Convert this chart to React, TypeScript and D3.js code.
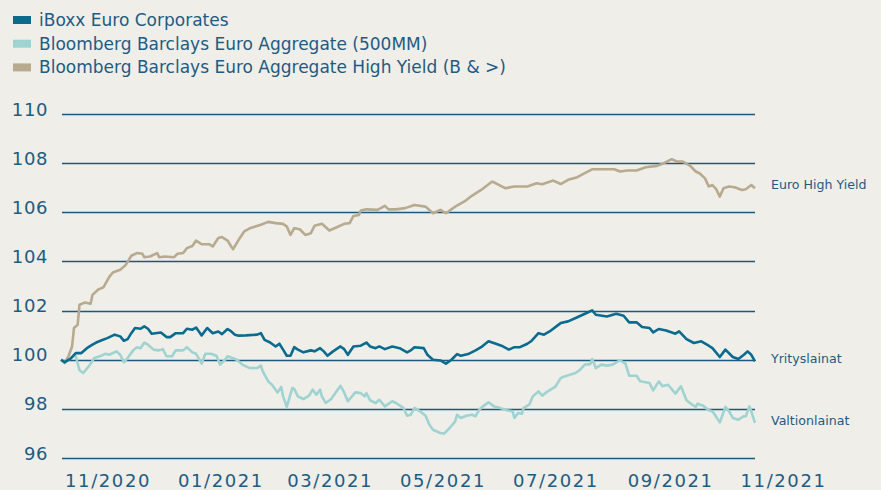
import React, { useEffect, useRef } from "react";
import * as d3 from "d3";

// [päiviä alusta, indeksi]
type Point = [number, number];

const START = new Date(2020, 9, 29);
const END_DAY = 375;

const SERIES_NAMES = [
  "iBoxx Euro Corporates",
  "Bloomberg Barclays Euro Aggregate (500MM)",
  "Bloomberg Barclays Euro Aggregate High Yield (B & >)",
];
const SERIES_COLORS = ["#0b6b8e", "#9fd3d1", "#b8aa8f"];

const END_LABELS = ["Yrityslainat", "Valtionlainat", "Euro High Yield"];
const END_LABEL_VALUES = [100.07, 97.53, 107.14];

const Y_TICKS = [96, 98, 100, 102, 104, 106, 108, 110];
const X_TICKS = [
  new Date(2020, 10, 1),
  new Date(2021, 0, 1),
  new Date(2021, 2, 1),
  new Date(2021, 4, 1),
  new Date(2021, 6, 1),
  new Date(2021, 8, 1),
  new Date(2021, 10, 1),
];

const corporates: Point[] = [
  [0, 100], [2, 99.9], [5, 100.03], [8, 100.27], [11, 100.27], [14, 100.47], [17, 100.61],
  [19, 100.7], [22, 100.79], [25, 100.88], [29, 101.02], [32, 100.95], [34, 100.77], [36, 100.84],
  [38, 101.08], [40, 101.29], [43, 101.26], [45, 101.36], [47, 101.26], [49, 101.06], [54, 101.11],
  [57, 100.92], [59, 100.92], [62, 101.08], [66, 101.08], [68, 101.26], [71, 101.22], [73, 101.31],
  [76, 100.99], [79, 101.29], [82, 101.08], [85, 101.15], [87, 101.04], [90, 101.25], [92, 101.15],
  [94, 101.02], [96, 100.98], [100, 100.99], [106, 101.02], [108, 101.08], [110, 100.81], [113, 100.7],
  [116, 100.54], [118, 100.65], [120, 100.41], [122, 100.16], [124, 100.16], [126, 100.51], [128, 100.41],
  [131, 100.3], [135, 100.38], [137, 100.34], [140, 100.47], [142, 100.34], [144, 100.16], [147, 100.34],
  [151, 100.54], [153, 100.43], [155, 100.2], [158, 100.54], [162, 100.57], [165, 100.7], [167, 100.54],
  [170, 100.47], [172, 100.54], [175, 100.43], [179, 100.54], [183, 100.47], [187, 100.3], [189, 100.38],
  [191, 100.51], [196, 100.47], [198, 100.2], [201, 100.0], [205, 99.97], [208, 99.84], [211, 100.0],
  [214, 100.23], [216, 100.16], [220, 100.23], [224, 100.38], [227, 100.51], [231, 100.75], [235, 100.65],
  [238, 100.57], [242, 100.41], [245, 100.51], [248, 100.51], [252, 100.65], [254, 100.75], [258, 101.08],
  [261, 101.02], [264, 101.15], [270, 101.49], [274, 101.56], [279, 101.73], [284, 101.9], [287, 102.01],
  [289, 101.83], [295, 101.76], [300, 101.87], [304, 101.79], [307, 101.52], [311, 101.52], [314, 101.33],
  [318, 101.29], [320, 101.11], [323, 101.25], [327, 101.19], [332, 101.06], [334, 101.15], [338, 100.84],
  [342, 100.68], [346, 100.75], [350, 100.57], [352, 100.47], [356, 100.11], [359, 100.41], [363, 100.11],
  [366, 100.03], [369, 100.2], [371, 100.34], [373, 100.2], [375, 99.93],
];

const aggregate: Point[] = [
  [0, 100], [3, 99.93], [7, 100.16], [8, 100.14], [10, 99.57], [12, 99.46], [15, 99.73], [18, 100.07],
  [21, 100.14], [24, 100.24], [26, 100.2], [30, 100.34], [32, 100.2], [34, 99.89], [36, 100.07], [39, 100.38],
  [41, 100.51], [43, 100.47], [45, 100.7], [47, 100.61], [50, 100.41], [53, 100.38], [55, 100.43], [57, 100.14],
  [60, 100.14], [62, 100.38], [66, 100.38], [68, 100.51], [71, 100.3], [73, 100.24], [76, 99.84], [78, 100.24],
  [81, 100.24], [84, 100.16], [86, 99.8], [89, 100.03], [90, 100.14], [95, 100.0], [98, 99.8], [102, 99.66],
  [106, 99.66], [108, 99.76], [109, 99.53], [112, 99.12], [114, 98.98], [117, 98.67], [119, 98.89], [120, 98.51],
  [122, 98.08], [125, 98.85], [126, 98.81], [128, 98.51], [131, 98.4], [134, 98.54], [136, 98.78], [138, 98.58],
  [140, 98.78], [141, 98.51], [143, 98.24], [146, 98.4], [151, 98.94], [153, 98.67], [155, 98.31], [159, 98.67],
  [162, 98.64], [164, 98.51], [165, 98.64], [167, 98.35], [170, 98.24], [172, 98.37], [175, 98.1], [179, 98.31],
  [181, 98.24], [185, 98.04], [187, 97.72], [189, 97.76], [191, 98.04], [194, 97.9], [197, 97.72], [199, 97.36],
  [201, 97.15], [205, 97.02], [207, 96.99], [210, 97.22], [213, 97.49], [214, 97.76], [216, 97.63], [219, 97.72],
  [222, 97.76], [224, 97.7], [226, 97.97], [228, 98.1], [231, 98.27], [234, 98.1], [237, 98.04], [241, 97.94],
  [244, 97.9], [245, 97.63], [247, 97.83], [249, 97.8], [250, 98.04], [253, 98.17], [255, 98.51], [258, 98.71],
  [260, 98.54], [263, 98.71], [267, 98.89], [270, 99.25], [272, 99.32], [275, 99.39], [278, 99.46], [280, 99.56],
  [283, 99.8], [286, 99.82], [287, 100.03], [289, 99.66], [292, 99.8], [295, 99.76], [298, 99.8], [302, 99.97],
  [305, 99.84], [307, 99.35], [311, 99.35], [313, 99.12], [316, 99.08], [318, 99.05], [320, 98.75], [323, 99.12],
  [325, 98.92], [328, 98.98], [332, 98.62], [335, 98.92], [338, 98.35], [341, 98.17], [343, 98.08], [344, 98.21],
  [347, 98.13], [350, 97.94], [352, 97.9], [356, 97.45], [359, 98.08], [361, 97.9], [363, 97.63], [366, 97.56],
  [369, 97.7], [370, 97.7], [372, 98.1], [373, 97.9], [375, 97.43],
];

const highYield: Point[] = [
  [0, 100.0], [2, 99.86], [4, 100.14], [6, 100.54], [7, 101.29], [9, 101.42], [10, 102.24], [13, 102.33],
  [16, 102.28], [17, 102.64], [20, 102.85], [23, 102.95], [26, 103.36], [28, 103.55], [32, 103.66], [35, 103.86],
  [38, 104.23], [41, 104.34], [44, 104.31], [45, 104.17], [48, 104.2], [52, 104.34], [53, 104.17], [56, 104.2],
  [61, 104.17], [63, 104.31], [66, 104.34], [68, 104.54], [71, 104.63], [73, 104.85], [76, 104.7], [80, 104.7],
  [82, 104.61], [85, 104.95], [87, 104.99], [90, 104.85], [92, 104.61], [93, 104.5], [96, 104.88], [99, 105.22],
  [102, 105.35], [105, 105.42], [108, 105.49], [112, 105.61], [116, 105.56], [120, 105.53], [122, 105.42],
  [124, 105.08], [126, 105.35], [129, 105.31], [132, 105.08], [135, 105.15], [137, 105.45], [141, 105.53],
  [145, 105.26], [149, 105.39], [153, 105.53], [156, 105.56], [158, 105.85], [161, 105.89], [162, 106.07],
  [165, 106.12], [171, 106.1], [175, 106.26], [177, 106.12], [181, 106.12], [186, 106.17], [191, 106.3],
  [197, 106.23], [201, 105.96], [205, 106.1], [208, 105.96], [213, 106.23], [218, 106.44], [222, 106.67],
  [227, 106.91], [233, 107.25], [235, 107.18], [240, 106.98], [245, 107.05], [252, 107.05], [257, 107.18],
  [260, 107.14], [266, 107.29], [270, 107.15], [274, 107.32], [279, 107.43], [283, 107.59], [287, 107.75],
  [293, 107.75], [299, 107.75], [302, 107.66], [306, 107.7], [311, 107.7], [316, 107.83], [322, 107.89],
  [325, 107.97], [330, 108.16], [333, 108.06], [336, 108.06], [340, 107.89], [343, 107.66], [345, 107.59],
  [348, 107.38], [350, 107.05], [352, 107.11], [354, 106.94], [356, 106.64], [358, 106.98], [361, 107.05],
  [364, 107.02], [368, 106.91], [370, 106.94], [373, 107.11], [375, 106.98],
];

const SERIES = [corporates, aggregate, highYield];

const WIDTH = 881;
const HEIGHT = 490;
const TEXT = "#1e5b82";
const GRID = "#1b5a7e";
const FONT = "'DejaVu Sans', sans-serif";

const App: React.FC = () => {
  const svgRef = useRef<SVGSVGElement>(null);

  useEffect(() => {
    if (!svgRef.current) return;
    const svg = d3.select(svgRef.current);
    svg.selectAll("*").remove();

    svg.append("rect").attr("width", WIDTH).attr("height", HEIGHT).attr("fill", "#efeee9");

    const x = d3
      .scaleTime()
      .domain([START, d3.timeDay.offset(START, END_DAY)])
      .range([61, 755]);
    const y = d3.scaleLinear().domain([96, 110]).range([458, 114]);

    // legenda
    const legend = svg
      .selectAll(".legend")
      .data(SERIES_NAMES)
      .enter()
      .append("g")
      .attr("class", "legend")
      .attr("transform", (_d, i) => `translate(0,${i * 23.7})`);
    legend
      .append("rect")
      .attr("x", 13)
      .attr("y", 16)
      .attr("width", 18)
      .attr("height", 8)
      .attr("fill", (_d, i) => SERIES_COLORS[i]);
    legend
      .append("text")
      .attr("x", 39)
      .attr("y", 26)
      .text((d) => d)
      .style("font-family", FONT)
      .style("font-size", "17px")
      .style("fill", TEXT);

    // vaakaviivat
    svg
      .append("g")
      .selectAll("line")
      .data(Y_TICKS)
      .enter()
      .append("line")
      .attr("x1", 62)
      .attr("x2", 755)
      .attr("y1", (d) => Math.round(y(d)) + 0.5)
      .attr("y2", (d) => Math.round(y(d)) + 0.5)
      .attr("stroke", GRID)
      .attr("stroke-width", 1.3);

    svg
      .append("g")
      .selectAll("text")
      .data(Y_TICKS)
      .enter()
      .append("text")
      .attr("x", 48)
      .attr("y", (d) => y(d) + 1.5)
      .attr("text-anchor", "end")
      .text((d) => d)
      .style("font-family", FONT)
      .style("font-size", "18px")
      .style("letter-spacing", "0.6px")
      .style("fill", TEXT);

    const fmt = d3.timeFormat("%m/%Y");
    svg
      .append("g")
      .selectAll("text")
      .data(X_TICKS)
      .enter()
      .append("text")
      .attr("x", (d) => x(d) - 1.5)
      .attr("y", 487)
      .text((d) => fmt(d))
      .style("font-family", FONT)
      .style("font-size", "18px")
      .style("letter-spacing", "1.6px")
      .style("fill", TEXT);

    const line = d3
      .line<Point>()
      .x((d) => x(d3.timeDay.offset(START, d[0])))
      .y((d) => y(d[1]));

    // piirtojärjestys: high yield alimmaisena
    [2, 1, 0].forEach((i) => {
      svg
        .append("path")
        .datum(SERIES[i])
        .attr("d", line)
        .attr("fill", "none")
        .attr("stroke", SERIES_COLORS[i])
        .attr("stroke-width", 2.6)
        .attr("stroke-linejoin", "round");
    });

    svg
      .append("g")
      .selectAll("text")
      .data(END_LABELS)
      .enter()
      .append("text")
      .attr("x", 771)
      .attr("y", (_d, i) => y(END_LABEL_VALUES[i]) + 4.6)
      .text((d) => d)
      .style("font-family", FONT)
      .style("font-size", "12.6px")
      .style("fill", TEXT);
  }, []);

  return (
    <svg
      ref={svgRef}
      width={WIDTH}
      height={HEIGHT}
      style={{ position: "absolute", left: 0, top: 0, display: "block" }}
    ></svg>
  );
};

export default App;
